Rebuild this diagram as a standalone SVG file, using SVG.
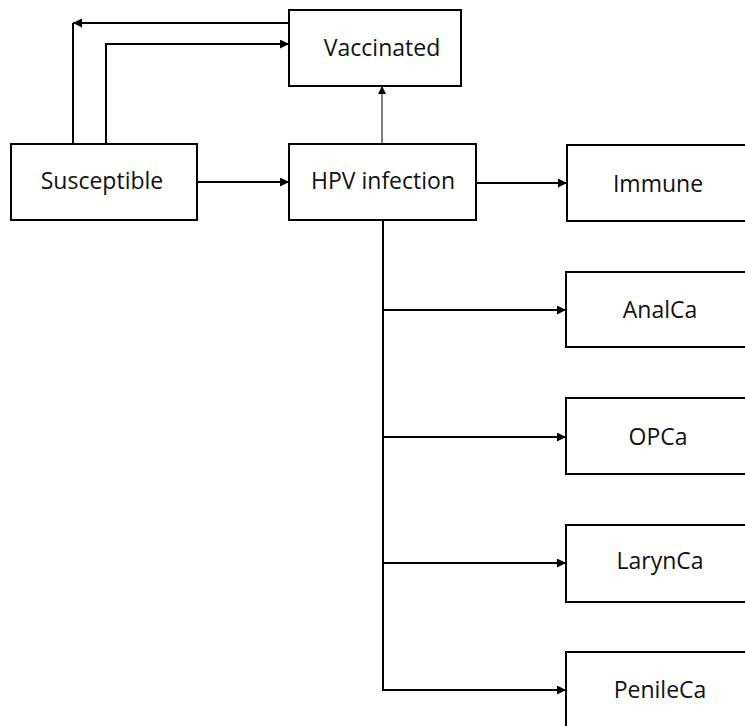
<svg xmlns="http://www.w3.org/2000/svg" width="745" height="726" viewBox="0 0 745 726">
<style>
.box{fill:#fff;stroke:#000;stroke-width:2}
.lbl{font-family:"Open Sans",sans-serif;font-size:23px;fill:#111;text-anchor:middle}
.c{fill:none;stroke:#000;stroke-width:2}
.g{fill:none;stroke:#555;stroke-width:1.5}
</style>
<defs>
<marker id="ah" viewBox="0 0 10 10" refX="10" refY="5" markerWidth="4.5" markerHeight="4.5" orient="auto" markerUnits="strokeWidth">
<path d="M0,0 L10,5 L0,10 Z" fill="#000"/>
</marker>
<marker id="ahg" viewBox="0 0 10 10" refX="10" refY="5" markerWidth="5.5" markerHeight="5.5" orient="auto" markerUnits="strokeWidth">
<path d="M0,0 L10,5 L0,10 Z" fill="#000"/>
</marker>
</defs>
<rect width="745" height="726" fill="#fff"/>
<g id="connectors">
<path class="c" d="M289,23 L73,23" marker-end="url(#ah)"/>
<path class="c" d="M73,23 L73,144"/>
<path class="c" d="M106,144 L106,44 L289,44" marker-end="url(#ah)"/>
<path class="c" d="M197,182 L289,182" marker-end="url(#ah)"/>
<path class="g" d="M382,144 L382,86" marker-end="url(#ahg)"/>
<path class="c" d="M476,183 L567,183" marker-end="url(#ah)"/>
<path class="c" d="M383,220 L383,690 L566,690" marker-end="url(#ah)"/>
<path class="c" d="M383,310 L566,310" marker-end="url(#ah)"/>
<path class="c" d="M383,437 L566,437" marker-end="url(#ah)"/>
<path class="c" d="M383,563 L566,563" marker-end="url(#ah)"/>
</g>
<g id="vaccinated"><rect class="box" x="289" y="10" width="172" height="76"/><text class="lbl" x="382" y="56">Vaccinated</text></g>
<g id="susceptible"><rect class="box" x="11" y="144" width="186" height="76"/><text class="lbl" x="102" y="189">Susceptible</text></g>
<g id="hpv"><rect class="box" x="289" y="144" width="187" height="76"/><text class="lbl" x="383" y="189">HPV infection</text></g>
<g id="immune"><rect class="box" x="567" y="145" width="190" height="76"/><text class="lbl" x="658" y="192">Immune</text></g>
<g id="analca"><rect class="box" x="566" y="272" width="190" height="75"/><text class="lbl" x="660" y="318">AnalCa</text></g>
<g id="opca"><rect class="box" x="566" y="398" width="190" height="76"/><text class="lbl" x="658" y="445">OPCa</text></g>
<g id="larynca"><rect class="box" x="566" y="525" width="190" height="77"/><text class="lbl" x="660" y="569">LarynCa</text></g>
<g id="penileca"><rect class="box" x="566" y="652" width="190" height="90"/><text class="lbl" x="660" y="698">PenileCa</text></g>
</svg>
